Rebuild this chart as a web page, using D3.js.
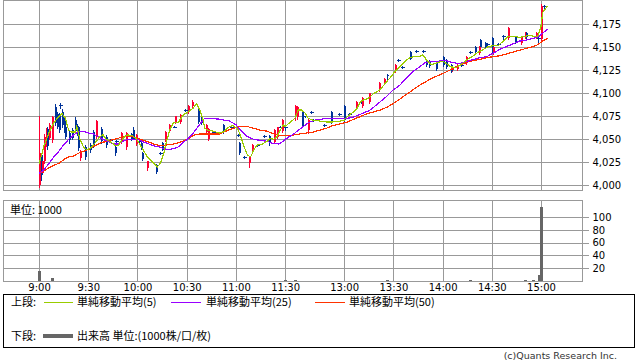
<!DOCTYPE html>
<html><head><meta charset="utf-8">
<script src="https://cdn.jsdelivr.net/npm/d3@7/dist/d3.min.js"></script>
<style>body{margin:0;background:#fff}svg{display:block}</style>
</head><body>
<svg id="c" width="638" height="362"></svg>
<script>
// ---------- data ----------
const priceTicks = [4000,4025,4050,4075,4100,4125,4150,4175];
const volTicks = [20,40,60,80,100];
const timeTicks = ["9:00","9:30","10:00","10:30","11:00","11:30","13:00","13:30","14:00","14:30","15:00"];

const candleTimes = ["9:00","9:01","9:02","9:03","9:04","9:05","9:06","9:08","9:10","9:11","9:12","9:13","9:14","9:15","9:16","9:18","9:20","9:22","9:23","9:24","9:25","9:28","9:31","9:33","9:35","9:38","9:41","9:43","9:46","9:47","9:50","9:53","9:56","9:57","9:59",
"10:01","10:02","10:03","10:06","10:11","10:14","10:15","10:17","10:19","10:22","10:23","10:26","10:29","10:31","10:33","10:37","10:39","10:42","10:43","10:46","10:52","10:57",
"11:01","11:02","11:05","11:08","11:10","11:13","11:17","11:20","11:23","11:25","11:27","11:28","11:30",
"12:30","12:31","12:34","12:36","12:38","12:40","12:41","12:48","12:52","12:57",
"13:00","13:03","13:07","13:10","13:11","13:15","13:21","13:24","13:26","13:31","13:33","13:35","13:40","13:44","13:48","13:50","13:52","13:56",
"14:00","14:02","14:05","14:06","14:09","14:11","14:14","14:17","14:20","14:22","14:23","14:26","14:27","14:30","14:31","14:34","14:37","14:40","14:44","14:48","14:50","14:51","14:57","14:58",
"15:00","15:02"];
const candleOpen = [4000,4033,4014,4027,4045,4061,4052,4049,4085,4078,4077,4087,4080,4074,4063,4057,4060,4071,4065,4063,4030,4042,4044,4058,4053,4061,4053,4049,4042,4048,4048,4042,4056,4060,4045,
4048,4046,4035,4019,4022,4035,4046,4049,4059,4064,4069,4069,4082,4080,4086,4082,4075,4058,4051,4058,4066,4063,
4055,4046,4031,4024,4039,4044,4054,4054,4047,4053,4064,4059,4064,
4075,4074,4080,4075,4060,4080,4071,4066,4080,4078,
4086,4078,4084,4091,4086,4091,4104,4111,4120,4124,4136,4129,4145,4146,4146,4136,4135,4134,
4140,4136,4131,4125,4127,4131,4133,4145,4151,4144,4158,4155,4154,4160,4144,4154,4163,4160,4162,4155,4161,4166,4161,4160,
4159,4195];
const candleHigh = [4075,4035,4030,4056,4062,4064,4068,4076,4088,4080,4079,4090,4083,4076,4066,4059,4062,4074,4067,4065,4038,4044,4046,4060,4071,4063,4055,4050,4044,4049,4058,4058,4057,4063,4056,
4049,4047,4036,4027,4023,4036,4047,4059,4067,4065,4076,4078,4083,4087,4093,4083,4076,4067,4062,4059,4067,4064,
4056,4047,4032,4032,4045,4045,4055,4055,4061,4064,4065,4072,4066,
4087,4086,4081,4076,4072,4081,4072,4067,4081,4079,
4087,4079,4092,4092,4096,4101,4112,4117,4121,4132,4137,4130,4146,4147,4147,4137,4136,4135,
4141,4137,4132,4130,4132,4132,4141,4146,4152,4152,4159,4156,4155,4161,4152,4155,4164,4172,4163,4163,4167,4167,4167,4161,
4197,4196];
const candleLow = [3998,4006,4012,4024,4043,4040,4050,4047,4066,4062,4058,4084,4064,4058,4052,4046,4050,4057,4055,4038,4028,4029,4036,4042,4052,4046,4042,4047,4033,4046,4046,4040,4049,4050,4044,
4047,4040,4028,4017,4014,4034,4038,4048,4058,4063,4068,4068,4081,4079,4085,4068,4067,4057,4049,4057,4057,4062,
4054,4034,4030,4020,4038,4043,4053,4044,4046,4052,4063,4058,4060,
4071,4072,4063,4074,4057,4079,4070,4065,4068,4077,
4070,4077,4083,4090,4085,4090,4103,4110,4113,4123,4135,4128,4137,4145,4145,4130,4129,4125,
4130,4128,4123,4124,4126,4130,4132,4144,4144,4143,4150,4150,4153,4144,4143,4153,4158,4159,4155,4154,4160,4160,4160,4156,
4157,4192];
const candleClose = [4035,4011,4027,4053,4060,4043,4066,4074,4068,4064,4060,4087,4066,4060,4053,4049,4052,4059,4057,4041,4036,4031,4038,4044,4070,4048,4044,4049,4035,4048,4057,4057,4050,4051,4055,
4048,4041,4029,4026,4015,4035,4039,4058,4066,4064,4075,4077,4082,4086,4091,4069,4068,4066,4061,4058,4058,4063,
4055,4035,4031,4031,4044,4044,4054,4046,4060,4063,4064,4071,4064,
4086,4085,4065,4075,4071,4080,4071,4066,4069,4078,
4071,4078,4091,4091,4095,4100,4111,4116,4119,4131,4136,4129,4138,4146,4146,4131,4130,4127,
4131,4129,4124,4129,4131,4131,4140,4145,4145,4151,4151,4151,4154,4145,4151,4154,4163,4171,4156,4162,4166,4161,4166,4160,
4195,4195];

const volTimes = ["9:00","9:08","11:30","12:30","13:26","14:17","14:50","14:55","14:59","15:00"];
const volValues = [16,4,2,2,2,2,2,2,10,115];

const ma5Times = ["9:00","9:03","9:06","9:09","9:12","9:14","9:16","9:18","9:20","9:22","9:23","9:25","9:27","9:29","9:31","9:34","9:37","9:39","9:41","9:43","9:46","9:48","9:50","9:52","9:54","9:57","9:59",
"10:01","10:03","10:06","10:10","10:12","10:14","10:16","10:18","10:20","10:22","10:25","10:28","10:31","10:34","10:36","10:38","10:40","10:41","10:43","10:46","10:50","10:53","10:55","10:58",
"11:01","11:03","11:05","11:07","11:09","11:11","11:13","11:16","11:19","11:21","11:23","11:25","11:27","11:29","11:30",
"12:30","12:32","12:34","12:36","12:38","12:41","12:45","12:49","12:53","12:58",
"13:00","13:02","13:05","13:08","13:10","13:12","13:15","13:18","13:22","13:25","13:28","13:31","13:34","13:37","13:40","13:43","13:46","13:48","13:50","13:53","13:56",
"14:00","14:02","14:05","14:08","14:11","14:15","14:18","14:21","14:25","14:28","14:31","14:34","14:37","14:40","14:44","14:47","14:50","14:53","14:56","14:58","15:00","15:01","15:04"];
const ma5Values = [4023,4043,4057,4068,4075,4078,4073,4060,4058,4058,4064,4050,4042,4039,4040,4046,4053,4055,4050,4048,4044,4043,4048,4053,4055,4054,4051,
4046,4040,4031,4024,4020,4024,4035,4050,4062,4068,4069,4077,4080,4084,4089,4082,4071,4062,4060,4059,4057,4059,4063,4065,
4062,4053,4042,4033,4031,4039,4044,4045,4048,4051,4050,4053,4060,4066,4064,
4073,4082,4082,4079,4073,4071,4070,4069,4069,4070,
4071,4075,4079,4084,4091,4093,4095,4100,4104,4111,4117,4124,4129,4135,4139,4140,4140,4142,4137,4131,4133,
4135,4133,4129,4128,4131,4137,4140,4144,4148,4151,4152,4152,4157,4162,4162,4161,4162,4163,4162,4162,4173,4188,4195];

const ma25Times = ["9:00","9:03","9:06","9:09","9:12","9:15","9:18","9:21","9:24","9:27","9:30","9:33","9:36","9:39","9:42","9:45","9:48","9:51","9:54","9:57",
"10:00","10:04","10:07","10:10","10:13","10:16","10:19","10:22","10:25","10:28","10:31","10:34","10:37","10:39","10:41","10:44","10:50","10:56",
"11:00","11:04","11:07","11:11","11:15","11:19","11:22","11:26","11:29","11:30",
"12:30","12:32","12:35","12:38","12:42","12:46","12:50","12:54","12:58",
"13:02","13:05","13:08","13:12","13:15","13:18","13:22","13:26","13:30","13:34","13:38","13:42","13:46","13:49","13:53","13:57",
"14:02","14:05","14:08","14:11","14:15","14:19","14:23","14:27","14:31","14:35","14:39","14:43","14:47","14:51","14:55","14:58","15:00","15:04"];
const ma25Values = [4013,4017,4024,4031,4037,4044,4050,4055,4058,4059,4057,4056,4053,4050,4048,4045,4045,4048,4050,4050,
4050,4047,4045,4043,4042,4040,4039,4040,4042,4047,4051,4057,4064,4069,4073,4073,4072,4070,
4066,4058,4053,4050,4049,4048,4046,4045,4048,4050,
4057,4060,4064,4068,4071,4072,4073,4073,4073,
4073,4074,4076,4079,4081,4085,4091,4097,4104,4109,4117,4124,4129,4133,4135,4135,
4136,4134,4133,4133,4135,4137,4139,4140,4144,4148,4151,4154,4157,4158,4160,4161,4164,4170];

const ma50Times = ["9:00","9:03","9:06","9:09","9:12","9:15","9:18","9:21","9:24","9:27","9:30","9:33","9:36","9:39","9:42","9:45","9:48","9:51","9:54","9:57",
"10:00","10:04","10:07","10:10","10:14","10:18","10:22","10:26","10:29","10:32","10:35","10:38","10:44","10:50","10:54","10:58",
"11:03","11:07","11:11","11:15","11:19","11:23","11:27","11:30",
"12:30","12:33","12:37","12:41","12:45","12:49","12:53","12:58",
"13:02","13:06","13:10","13:14","13:18","13:22","13:26","13:30","13:34","13:38","13:42","13:46","13:50","13:54","13:58",
"14:03","14:07","14:11","14:15","14:19","14:23","14:27","14:31","14:35","14:39","14:43","14:47","14:51","14:55","14:58","15:01","15:04"];
const ma50Values = [4013,4016,4019,4022,4024,4028,4031,4032,4035,4037,4039,4042,4045,4047,4048,4050,4051,4053,4054,4053,
4051,4049,4047,4045,4043,4044,4045,4047,4049,4052,4055,4056,4056,4056,4059,4062,
4064,4064,4062,4060,4059,4056,4054,4054,
4055,4056,4057,4058,4060,4062,4065,4067,
4069,4072,4075,4078,4080,4082,4085,4089,4094,4099,4104,4109,4113,4117,4120,
4124,4128,4131,4134,4136,4137,4139,4140,4141,4143,4145,4147,4149,4151,4153,4157,4160];

// ---------- styles ----------
const RED = "#ff0033", BLUE = "#003399", GRID = "#999999";
const C_MA5 = "#99cc00", C_MA25 = "#9900ff", C_MA50 = "#ff3300", C_VOL = "#666666";
const NUM_FONT = "'DejaVu Sans', 'Noto Sans CJK JP', sans-serif";
const JP_FONT = "'Noto Sans CJK JP', 'DejaVu Sans', sans-serif";

// ---------- helpers ----------
function tIdx(s){ const p = s.split(":").map(Number); const t = p[0]*60 + p[1]; return t <= 690 ? t - 540 : t - 750 + 156; }

const svg = d3.select("#c");
svg.append("rect").attr("width",638).attr("height",362).attr("fill","#fff");

const L = 3, R = 582;
const x = d3.scaleLinear().domain([-22, 331]).range([L, R]);
const y = d3.scaleLinear().domain([3995, 4200]).range([190, 1.5]);
const yv = d3.scaleLinear().domain([0, 125]).range([281, 201]);
const px = v => Math.round(x(tIdx(v)));

// ---------- top panel grid ----------
const gTop = svg.append("g").attr("shape-rendering","crispEdges");
gTop.selectAll(".hg").data(priceTicks).join("line")
  .attr("x1",L).attr("x2",R).attr("y1",d=>Math.round(y(d))+0.5).attr("y2",d=>Math.round(y(d))+0.5)
  .attr("stroke",GRID);
gTop.selectAll(".vg").data(timeTicks).join("line")
  .attr("x1",d=>px(d)+0.5).attr("x2",d=>px(d)+0.5).attr("y1",0).attr("y2",190)
  .attr("stroke",GRID);
gTop.append("rect").attr("x",L+0.5).attr("y",0.5).attr("width",R-L).attr("height",190)
  .attr("fill","none").attr("stroke",GRID);

// price axis (right)
const ay = svg.append("g").attr("transform",`translate(${R+0.5},0)`)
  .call(d3.axisRight(y).tickValues(priceTicks).tickFormat(d3.format(",")).tickSize(6).tickPadding(4));
ay.select(".domain").remove();
ay.selectAll("line").attr("stroke",GRID).attr("shape-rendering","crispEdges");
ay.selectAll("text").attr("font-family",NUM_FONT).attr("font-size",10).attr("fill","#000");

// ---------- candles ----------
const candles = candleTimes.map((t,i)=>({t, o:candleOpen[i], h:candleHigh[i], l:candleLow[i], c:candleClose[i]}));
const gC = svg.append("g").attr("shape-rendering","crispEdges");
const colOf = d => d.c > d.o ? RED : BLUE;
gC.selectAll(".wick").data(candles).join("line")
  .attr("x1",d=>px(d.t)+0.5).attr("x2",d=>px(d.t)+0.5)
  .attr("y1",d=>Math.round(y(d.h))).attr("y2",d=>Math.round(y(d.l))+1)
  .attr("stroke",colOf);
gC.selectAll(".body").data(candles).join("rect")
  .attr("x",d=> d.o===d.c ? px(d.t)-1 : px(d.t))
  .attr("width",d=> d.o===d.c ? 4 : 2)
  .attr("y",d=>Math.round(y(Math.max(d.o,d.c))))
  .attr("height",d=>Math.max(1, Math.round(y(Math.min(d.o,d.c))) - Math.round(y(Math.max(d.o,d.c)))))
  .attr("fill",colOf);

// ---------- moving averages ----------
const line = d3.line().x(d=>x(tIdx(d.t))).y(d=>y(d.v));
function drawMA(times, vals, col){
  const data = times.map((t,i)=>({t, v:vals[i]}));
  svg.append("path").datum(data).attr("d",line).attr("fill","none")
    .attr("stroke",col).attr("stroke-width",1.2).attr("shape-rendering","crispEdges");
}
drawMA(ma50Times, ma50Values, C_MA50);
drawMA(ma25Times, ma25Values, C_MA25);
drawMA(ma5Times, ma5Values, C_MA5);

// ---------- volume panel ----------
const gV = svg.append("g").attr("shape-rendering","crispEdges");
gV.selectAll(".hg").data(volTicks).join("line")
  .attr("x1",L).attr("x2",R).attr("y1",d=>Math.round(yv(d))+0.5).attr("y2",d=>Math.round(yv(d))+0.5)
  .attr("stroke",GRID);
gV.selectAll(".vg").data(timeTicks).join("line")
  .attr("x1",d=>px(d)+0.5).attr("x2",d=>px(d)+0.5).attr("y1",201).attr("y2",281)
  .attr("stroke",GRID);
const vols = volTimes.map((t,i)=>({t, v:volValues[i]}));
gV.selectAll(".vb").data(vols).join("rect")
  .attr("x",d=>px(d.t)-1).attr("width",3)
  .attr("y",d=>Math.round(yv(d.v))).attr("height",d=>281-Math.round(yv(d.v)))
  .attr("fill",C_VOL);
gV.append("rect").attr("x",L+0.5).attr("y",200.5).attr("width",R-L).attr("height",80.5)
  .attr("fill","none").attr("stroke",GRID);

const av = svg.append("g").attr("transform",`translate(${R+0.5},0)`)
  .call(d3.axisRight(yv).tickValues(volTicks).tickSize(6).tickPadding(4));
av.select(".domain").remove();
av.selectAll("line").attr("stroke",GRID).attr("shape-rendering","crispEdges");
av.selectAll("text").attr("font-family",NUM_FONT).attr("font-size",10).attr("fill","#000");

svg.append("text").attr("x",10).attr("y",210).attr("dy","0.35em")
  .attr("font-family",JP_FONT).attr("font-size",11).text("単位: 1000");

// time axis
const ax = svg.append("g").attr("transform","translate(0,281)")
  .call(d3.axisBottom(x).tickValues(timeTicks.map(tIdx)).tickFormat((d,i)=>timeTicks[i]).tickSize(0).tickPadding(3));
ax.select(".domain").remove();
ax.selectAll("text").attr("font-family",NUM_FONT).attr("font-size",10).attr("fill","#000");

// ---------- legend ----------
const lg = svg.append("g");
lg.append("rect").attr("x",3.5).attr("y",294.5).attr("width",631).attr("height",53)
  .attr("fill","#fff").attr("stroke","#000").attr("shape-rendering","crispEdges");
const lt = (xx,yy,s)=>lg.append("text").attr("x",xx).attr("y",yy).attr("dy","0.35em")
  .attr("font-family",JP_FONT).attr("font-size",11).attr("fill","#000").text(s);
const ll = (x1,x2,yy,c,w)=>lg.append("line").attr("x1",x1).attr("x2",x2).attr("y1",yy).attr("y2",yy)
  .attr("stroke",c).attr("stroke-width",w).attr("shape-rendering","crispEdges");
lt(11,302,"上段:");
ll(44,73,302.5,C_MA5,1); lt(77,302,"単純移動平均(5)");
ll(171,201,302.5,C_MA25,1); lt(206,302,"単純移動平均(25)");
ll(315,345,302.5,C_MA50,1); lt(349,302,"単純移動平均(50)");
lt(11,336,"下段:");
ll(43,73,336,C_VOL,4); lt(77,336,"出来高 単位:(1000株/口/枚)");

svg.append("text").attr("x",617).attr("y",356).attr("dy","0.35em").attr("text-anchor","end")
  .attr("font-family",NUM_FONT).attr("font-size",9.5).attr("fill","#333").text("(c)Quants Research Inc.");
</script>
</body></html>
